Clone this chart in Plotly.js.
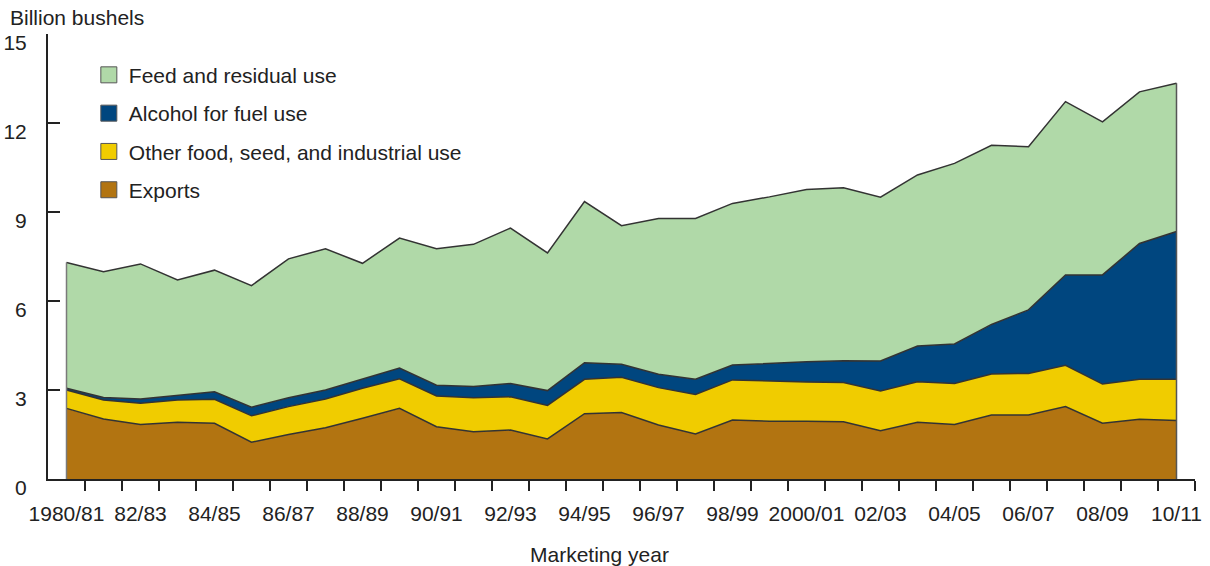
<!DOCTYPE html>
<html>
<head>
<meta charset="utf-8">
<script src="https://cdn.plot.ly/plotly-3.0.1.min.js"></script>
<style>
  html, body { margin: 0; padding: 0; background: #ffffff; }
  #chart { width: 1210px; height: 566px; }
</style>
</head>
<body>
<div id="chart"></div>
<script>
// Marketing years (1980/81 .. 2010/11)
const years = ["1980/81","81/82","82/83","83/84","84/85","85/86","86/87","87/88","88/89","89/90",
               "90/91","91/92","92/93","93/94","94/95","95/96","96/97","97/98","98/99","99/00",
               "2000/01","01/02","02/03","03/04","04/05","05/06","06/07","07/08","08/09","09/10","10/11"];

// Billion bushels
const exportsUse = [2.38,2.02,1.84,1.91,1.88,1.24,1.50,1.73,2.05,2.38,
                    1.76,1.59,1.65,1.35,2.20,2.24,1.82,1.52,1.99,1.95,
                    1.95,1.93,1.63,1.91,1.84,2.16,2.16,2.44,1.88,2.01,1.97];
const otherFsiUse = [0.62,0.64,0.71,0.75,0.81,0.89,0.94,0.97,1.01,1.00,
                     1.04,1.15,1.12,1.13,1.16,1.19,1.26,1.33,1.35,1.35,
                     1.32,1.32,1.34,1.37,1.38,1.38,1.40,1.39,1.32,1.35,1.39];
const alcoholUse = [0.06,0.09,0.15,0.17,0.25,0.29,0.30,0.30,0.31,0.36,
                    0.36,0.38,0.45,0.50,0.56,0.44,0.45,0.51,0.50,0.60,
                    0.68,0.74,1.01,1.20,1.33,1.67,2.14,3.05,3.68,4.58,4.98];
const feedUse = [4.24,4.24,4.55,3.88,4.10,4.10,4.68,4.76,3.90,4.38,
                 4.60,4.79,5.24,4.64,5.43,4.67,5.25,5.42,5.45,5.61,
                 5.81,5.83,5.52,5.77,6.09,6.04,5.50,5.84,5.16,5.11,5.00];

const seriesNames = ["Exports", "Other food, seed, and industrial use", "Alcohol for fuel use", "Feed and residual use"];
const seriesColors = ["#b27411", "#f0cc00", "#00467f", "#b0d9a8"];
const yTicks = [0, 3, 6, 9, 12, 15];

const idx = years.map((_, i) => i);
const seriesData = [exportsUse, otherFsiUse, alcoholUse, feedUse];
const FONT = "Liberation Sans, Arial, Helvetica, sans-serif";
const FS = 21;

const traces = [];
seriesData.forEach((vals, k) => {
  traces.push({
    x: idx, y: vals, type: "scatter", mode: "lines",
    stackgroup: "use",
    line: { color: "#333333", width: 1.5, shape: "linear" },
    fillcolor: seriesColors[k],
    name: seriesNames[k],
    showlegend: false,
    hoverinfo: "x+y+name"
  });
});

// closing edges of the stacked area at first and last year
const total = idx.map(i => seriesData.reduce((s, arr) => s + arr[i], 0));
const last = idx.length - 1;
traces.push({ x: [0, 0], y: [0, total[0]], type: "scatter", mode: "lines",
  line: { color: "#7a7a7a", width: 1.5 }, showlegend: false, hoverinfo: "skip" });
traces.push({ x: [last, last], y: [0, total[last]], type: "scatter", mode: "lines",
  line: { color: "#555555", width: 1.5 }, showlegend: false, hoverinfo: "skip" });

// legend entries (top to bottom: Feed, Alcohol, Other, Exports)
[3, 2, 1, 0].forEach(k => {
  traces.push({
    x: [null], y: [null], type: "scatter", mode: "markers",
    name: seriesNames[k], legendgroup: "g" + k,
    marker: { symbol: "square", size: 16, color: seriesColors[k], line: { color: "#555555", width: 1 } },
    showlegend: true, hoverinfo: "skip"
  });
});

const evenIdx = idx.filter(i => i % 2 === 0);
const boundaries = idx.map(i => i + 0.5);

const layout = {
  width: 1210, height: 566,
  margin: { l: 48, r: 15, t: 34, b: 87 },
  paper_bgcolor: "#ffffff", plot_bgcolor: "#ffffff",
  font: { family: FONT, size: FS, color: "#222222" },
  showlegend: true,
  legend: {
    x: 0.0356, y: 0.9535, xanchor: "left", yanchor: "top",
    bgcolor: "rgba(0,0,0,0)", borderwidth: 0,
    traceorder: "grouped", tracegroupgap: 8,
    font: { family: FONT, size: FS, color: "#222222" }
  },
  xaxis: {
    type: "linear", range: [-0.5, 30.5],
    tickmode: "array", tickvals: evenIdx, ticktext: evenIdx.map(i => years[i]),
    ticks: "outside", ticklen: 10, tickcolor: "rgba(0,0,0,0)",
    ticklabelstandoff: 5,
    minor: { tickmode: "array", tickvals: boundaries, ticks: "outside", ticklen: 10, tickwidth: 2, tickcolor: "#222222", showgrid: false },
    showline: true, linecolor: "#222222", linewidth: 2,
    showgrid: false, zeroline: false,
    tickfont: { family: FONT, size: FS, color: "#222222" }
  },
  yaxis: {
    range: [0, 15], tickmode: "array", tickvals: yTicks,
    ticks: "inside", ticklen: 12, tickwidth: 2, tickcolor: "#222222",
    ticklabelstandoff: 15, ticklabelshift: 9,
    showline: true, linecolor: "#222222", linewidth: 2,
    showgrid: false, zeroline: false,
    tickfont: { family: FONT, size: FS, color: "#222222" }
  },
  annotations: [{
    xref: "paper", yref: "paper", x: -0.0345, y: 1.036,
    xanchor: "left", yanchor: "middle", showarrow: false,
    text: "Billion bushels",
    font: { family: FONT, size: FS, color: "#222222" }
  }, {
    xref: "paper", yref: "paper", x: 0.481, y: -0.17,
    xanchor: "center", yanchor: "middle", showarrow: false,
    text: "Marketing year",
    font: { family: FONT, size: FS, color: "#222222" }
  }]
};

Plotly.newPlot("chart", traces, layout, { displayModeBar: false, staticPlot: true });
</script>
</body>
</html>
